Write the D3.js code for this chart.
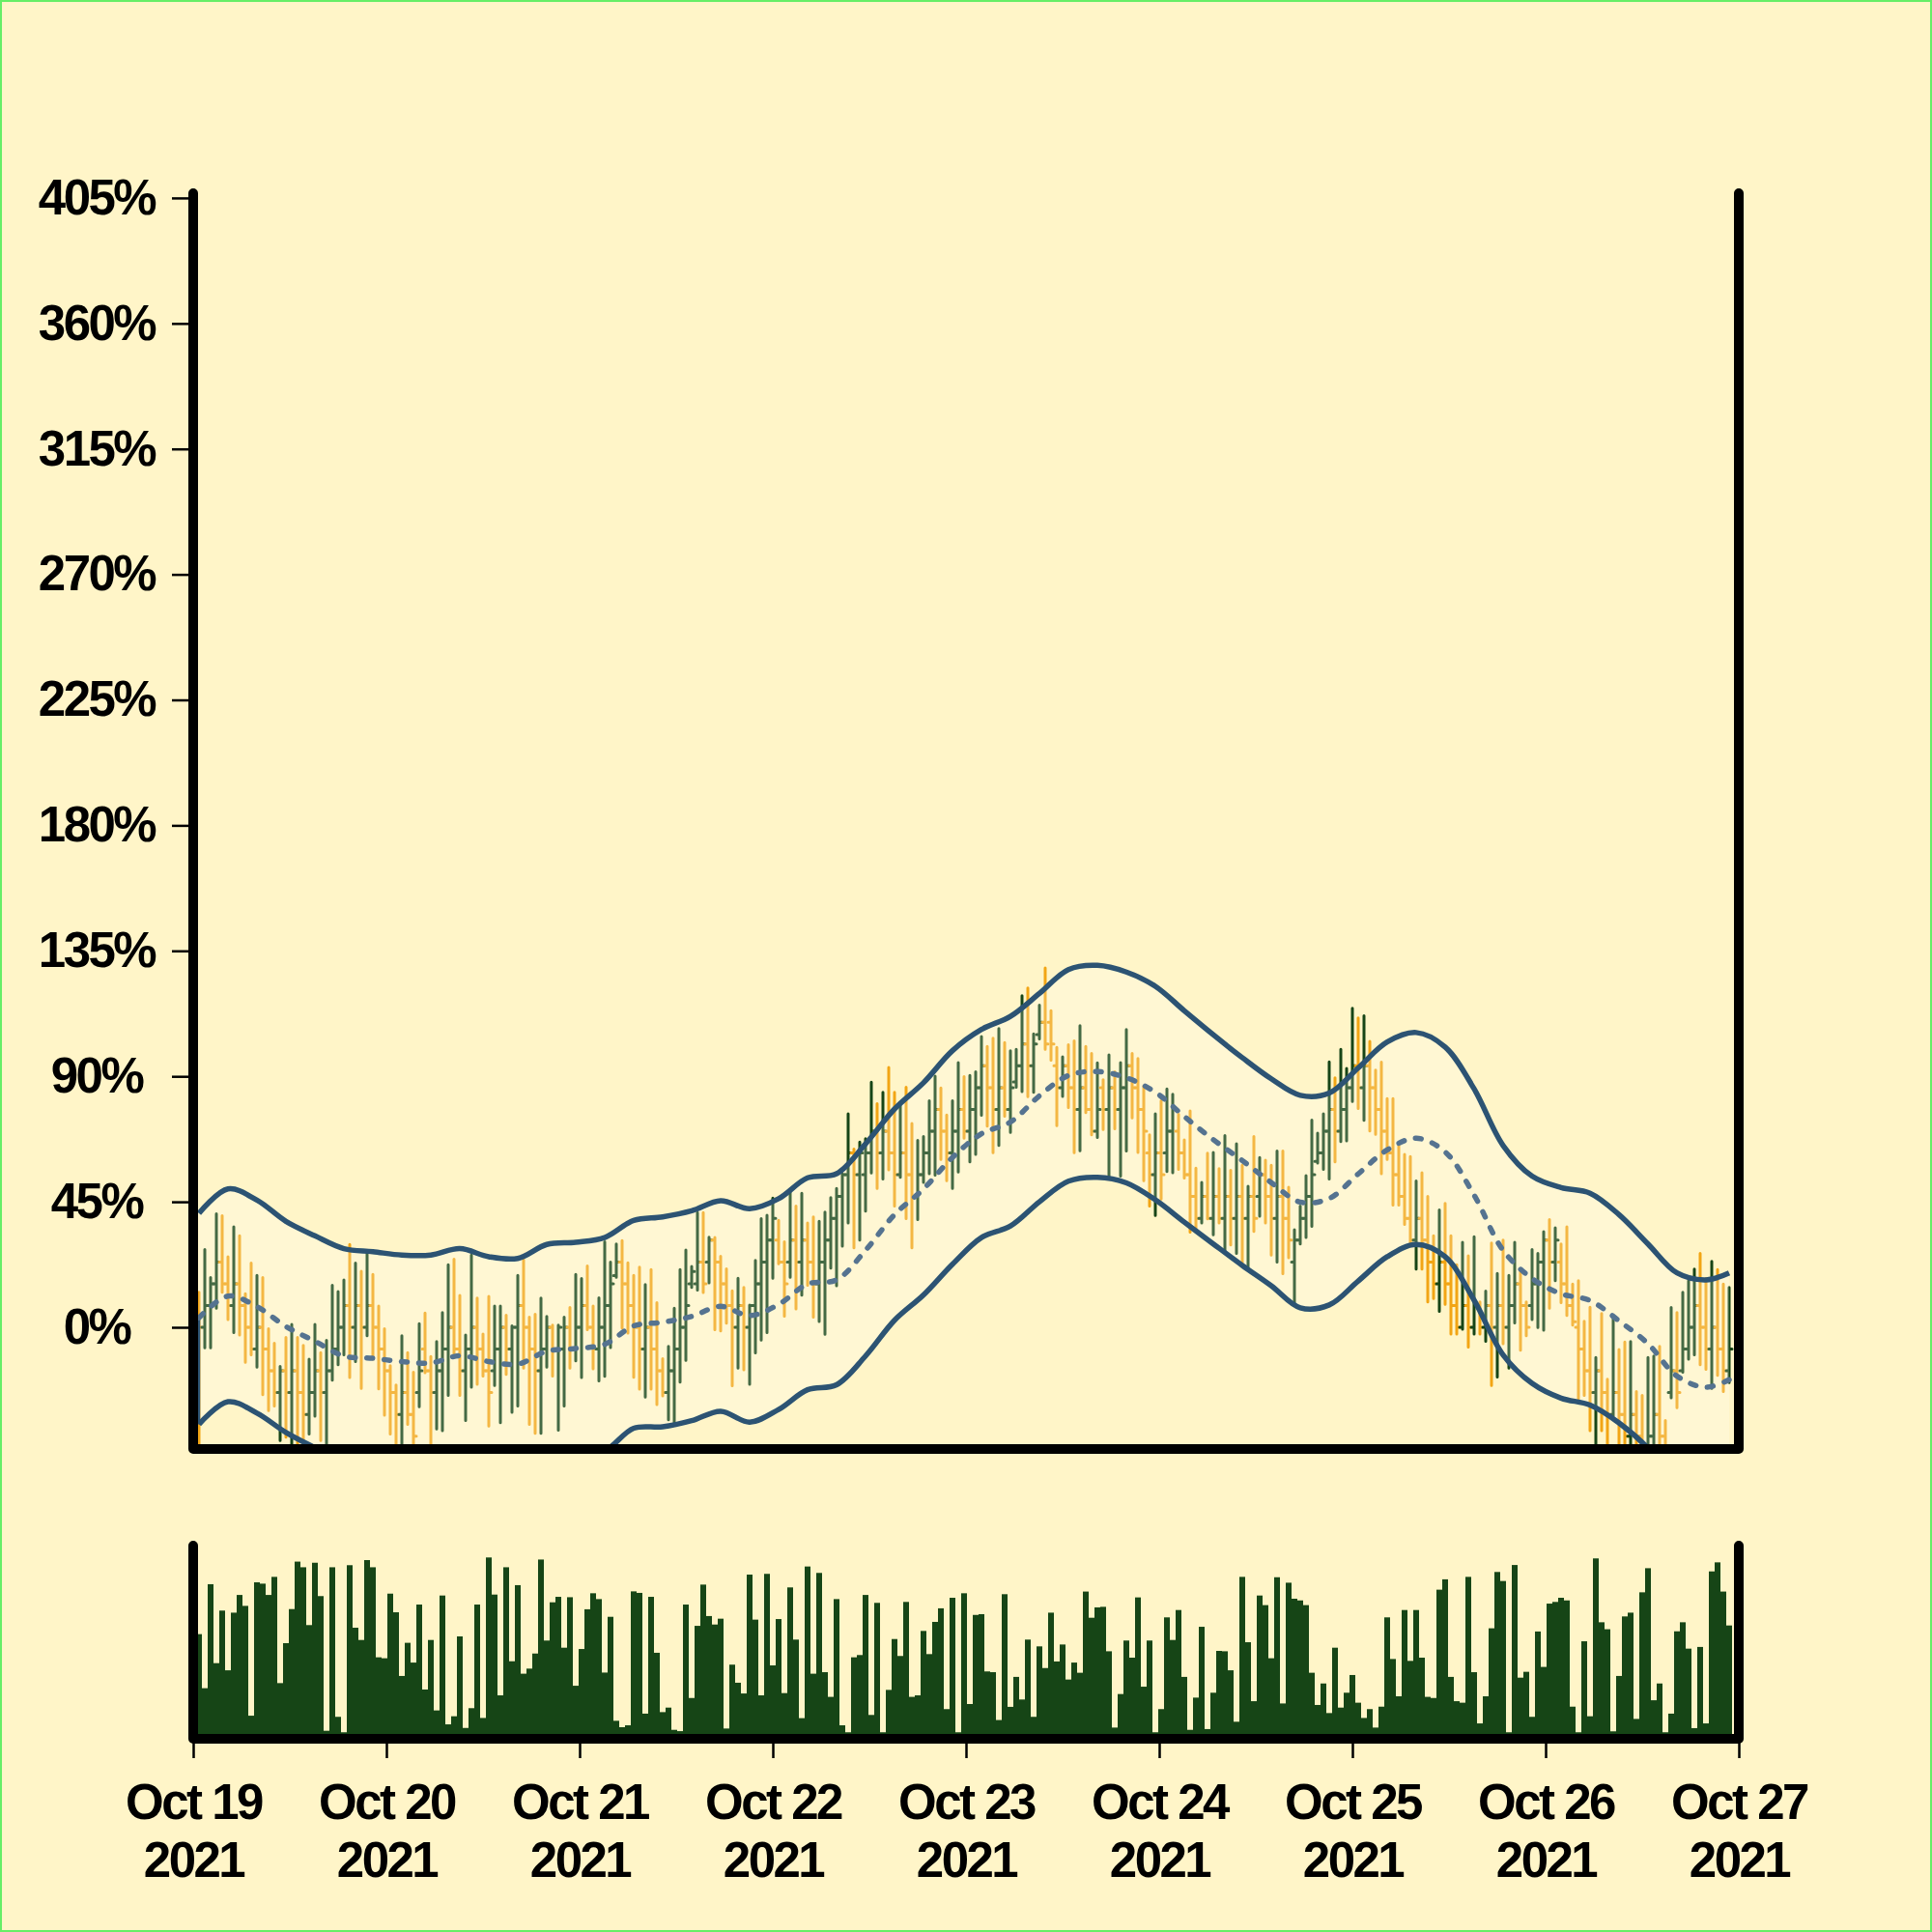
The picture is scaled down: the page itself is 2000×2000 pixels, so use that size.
<!DOCTYPE html>
<html><head><meta charset="utf-8">
<script src="https://cdn.jsdelivr.net/npm/d3@7"></script>
<style>
html,body{margin:0;padding:0;background:#fff5c8;}
svg{display:block;}
text{font-family:"Liberation Sans",Arial,Helvetica,sans-serif;font-weight:bold;fill:#000;}
</style></head><body>
<svg id="chart" width="2000" height="2000"></svg>
<script>
// ---------------- DATA (percent change vs first close) ----------------
const startDate = "2021-10-19";
const endDate = "2021-10-27";
const barStepDays = 0.03;
const yTickValues = [0,45,90,135,180,225,270,315,360,405];

const opens = [7.8,0,7.8,15.6,23.4,15.6,7.8,15.6,7.8,0,
-7.8,0,-7.8,-15.6,-23.4,-15.6,-23.4,-15.6,-23.4,-31.3,
-23.4,-15.6,-23.4,-15.6,-7.8,0,7.8,0,7.8,0,
7.8,0,-7.8,-15.6,-23.4,-31.3,-23.4,-31.3,-23.4,-7.8,
-15.6,-23.4,-15.6,-7.8,0,-7.8,-15.6,-7.8,0,-7.8,
-15.6,-15.6,-7.8,0,-7.8,0,7.8,0,-7.8,-15.6,
-7.8,0,-7.8,-7.8,0,-7.8,0,7.8,0,-7.8,
0,7.8,18.5,23.4,15.6,7.8,0,-7.8,0,-7.8,
-15.6,-23.4,-15.6,-7.8,0,15.6,15.6,23.4,23.4,31.3,
23.4,15.6,7.8,0,7.8,0,7.8,15.6,23.4,31.3,
31.3,23.4,23.4,31.3,23.4,31.3,23.4,15.6,23.4,31.3,
39.1,46.9,54.7,62.5,54.7,54.7,62.5,70.3,62.5,70.3,
62.5,54.7,62.5,54.7,46.9,54.7,62.5,70.3,78.1,70.3,
62.5,70.3,78.1,70.3,78.1,85.9,93.8,85.9,78.1,85.9,
78.1,88,93.8,101.6,93.8,105,109.4,109.4,93.8,85.9,
93.8,85.9,78.1,85.9,78.1,70.3,85.9,78.1,85.9,78.1,
85.9,93.8,85.9,78.1,62.5,54.7,62.5,62.5,70.3,70.3,
62.5,54.7,46.9,39.1,46.9,39.1,46.9,39.1,46.9,39.1,
46.9,39.1,46.9,46.9,54.7,46.9,39.1,46.9,39.1,23.4,
31.3,39.1,46.9,59.5,62.5,70.3,78.1,70.3,78.1,85.9,
93.8,85.9,93.8,85.9,78.1,70.3,62.5,54.7,46.9,39.1,
31.3,39.1,31.3,23.4,15.6,23.4,15.6,7.8,0,7.8,
0,7.8,0,7.8,0,7.8,0,7.8,15.6,7.8,
7.8,15.6,23.4,31.3,23.4,23.4,15.6,7.8,0,-7.8,
-15.6,-23.4,-15.6,-23.4,-31.3,-23.4,-31.3,-39.1,-31.3,-39.1,
-46.9,-39.1,-31.3,-39.1,-23.4,-15.6,-15.6,-7.8,0,7.8,
0,-7.8,0,-7.8,-15.6];

const closes = [0,7.8,15.6,23.4,15.6,7.8,15.6,7.8,0,-7.8,
0,-7.8,-15.6,-23.4,-15.6,-23.4,-15.6,-23.4,-31.3,-23.4,
-15.6,-23.4,-15.6,-7.8,0,7.8,0,7.8,0,7.8,
0,-7.8,-15.6,-23.4,-31.3,-23.4,-31.3,-39.1,-15.6,-15.6,
-23.4,-15.6,-7.8,0,-7.8,-15.6,-7.8,0,-7.8,-15.6,
-23.4,-7.8,0,-7.8,0,7.8,0,-7.8,-15.6,-7.8,
0,-7.8,0,0,-7.8,0,7.8,0,-7.8,0,
7.8,15.6,23.4,15.6,7.8,0,-7.8,0,-7.8,-15.6,
-23.4,-15.6,-7.8,0,7.8,20,23.4,15.6,31.3,23.4,
15.6,7.8,0,7.8,0,7.8,15.6,23.4,31.3,39.1,
23.4,15.6,31.3,23.4,31.3,23.4,15.6,23.4,31.3,39.1,
46.9,54.7,62.5,54.7,62.5,62.5,70.3,62.5,70.3,62.5,
54.7,62.5,54.7,46.9,54.7,62.5,70.3,78.1,70.3,62.5,
70.3,78.1,70.3,78.1,85.9,93.8,85.9,78.1,85.9,78.1,
85.9,93.8,101.6,93.8,101.6,109.4,101.6,101.6,85.9,93.8,
85.9,78.1,85.9,78.1,70.3,78.1,78.1,85.9,78.1,85.9,
93.8,85.9,78.1,70.3,54.7,62.5,54.7,70.3,78.1,62.5,
54.7,46.9,39.1,46.9,39.1,46.9,39.1,46.9,39.1,46.9,
39.1,46.9,39.1,54.7,46.9,39.1,46.9,39.1,31.3,31.3,
39.1,46.9,54.7,62.5,70.3,78.1,70.3,78.1,85.9,93.8,
85.9,93.8,85.9,78.1,70.3,62.5,54.7,46.9,39.1,31.3,
39.1,31.3,23.4,15.6,23.4,15.6,7.8,0,7.8,0,
7.8,0,7.8,0,7.8,0,7.8,15.6,7.8,0,
15.6,23.4,31.3,23.4,31.3,15.6,7.8,2,-7.8,-15.6,
-23.4,-15.6,-23.4,-31.3,-23.4,-31.3,-39.1,-31.3,-39.1,-46.9,
-39.1,-31.3,-39.1,-46.9,-15.6,-23.4,-7.8,0,7.8,0,
-7.8,0,-7.8,-15.6,-7.8];

const highs = [12.6,27.9,17.8,40.7,40.0,25.3,36.0,32.8,12.0,23.0,
18.6,17.8,-0.5,-5.7,-14.0,-3.6,1.0,-3.6,-6.5,-11.4,
1.0,-9.1,-4.7,15.1,12.8,17.0,29.7,23.0,20.1,26.7,
19.0,7.6,-0.5,-13.8,-20.7,-3.0,-9.1,-16.1,1.3,5.1,
-10.5,-5.1,5.3,22.4,24.4,11.4,-2.8,25.9,10.5,-2.4,
11.1,7.6,7.6,4.3,0.5,18.6,24.2,3.6,4.7,10.5,
3.9,0.8,0.8,3.6,7.1,19.0,17.5,22.0,7.6,10.6,
30.7,23.4,29.9,31.1,23.1,18.6,21.6,15.3,20.7,8.8,
-11.3,-6.8,6.8,20.7,27.7,21.8,41.1,41.1,32.3,32.2,
25.5,21.0,13.1,17.6,14.3,8.0,24.0,39.0,40.2,46.3,
38.4,30.7,49.0,43.5,48.1,37.4,39.6,38.0,41.3,46.5,
49.8,55.1,76.6,63.9,66.4,67.6,87.9,80.2,84.3,93.2,
84.3,79.4,86.1,73.1,67.0,68.4,81.2,90.1,85.8,76.1,
81.2,94.9,89.9,90.3,91.6,104.3,100.7,103.7,107.1,102.1,
99.2,99.7,118.9,121.7,105.2,115.5,128.9,113.5,100.4,97.0,
101.3,102.7,108.2,100.7,98.2,94.8,88.8,97.7,91.6,94.9,
106.8,98.2,96.4,86.4,69.0,76.6,81.2,85.5,83.6,76.4,
67.2,77.6,57.1,52.0,62.4,62.7,56.9,68.8,56.3,65.8,
58.1,50.6,68.4,60.9,59.9,58.1,63.2,63.2,50.2,35.0,
43.5,54.4,74.3,69.6,76.6,95.2,89.5,99.7,92.8,114.4,
110.9,111.7,102.5,92.2,95.1,82.0,82.0,65.2,62.0,61.2,
52.5,55.4,46.9,32.8,42.1,44.4,32.8,22.4,30.5,25.6,
32.5,9.1,13.0,30.2,19.3,31.3,18.6,30.5,20.5,9.1,
27.9,26.5,34.3,38.6,35.7,29.9,36.0,15.5,16.7,2.2,
7.2,-10.8,4.9,-18.6,4.3,-8.0,-5.3,-5.1,-23.0,-24.4,
-10.8,-10.3,-6.8,-33.4,7.1,5.3,12.6,16.7,20.9,26.5,
17.5,23.6,20.7,15.5,14.3];

const lows = [-50,-7.4,-7.4,6.8,12.6,2.8,-1.9,-2.8,-12.6,-9.9,
-14.3,-24.2,-29.9,-28.2,-40.6,-39.4,-50,-50,-50,-38.3,
-31.9,-40.6,-50,-19.0,-13.4,-9.9,-18.0,-12.3,-21.9,-3.0,
-11.4,-22.1,-31.5,-38.3,-50,-50,-34.8,-42.5,-28.5,-16.3,
-50,-36.5,-37.1,-24.4,-9.4,-24.4,-33.4,-21.5,-20.4,-17.5,
-35.4,-20.9,-34.2,-16.9,-30.5,-28.2,-14.6,-34.8,-38.0,-38.0,
-14.3,-17.5,-36.9,-28.2,-14.6,-12.0,-18.0,-0.9,-14.9,-19.2,
-17.6,-7.3,17.9,-0.3,-2.1,-17.9,-22.2,-25.0,-22.2,-27.7,
-24.6,-33.2,-35.0,-19.7,-11.9,14.3,13.3,12.5,15.9,-0.9,
-1.3,1.5,-21.0,-14.6,-15.2,-20.4,-9.2,-4.6,-1.9,17.6,
22.8,4.0,17.9,6.6,11.5,15.1,3.6,2.1,-2.5,21.2,
14.9,29.1,37.4,28.5,31.3,41.7,55.3,49.8,53.2,56.5,
43.5,53.8,39.0,28.5,38.6,52.0,55.1,54.6,60.2,52.6,
49.8,55.7,67.8,59.3,62.0,76.0,72.1,62.6,65.2,75.7,
69.9,86.1,84.5,82.7,84.3,103.4,99.7,95.8,72.3,82.8,
78.8,62.6,63.3,77.0,69.0,68.1,70.9,53.2,71.2,54.2,
63.2,75.1,62.7,52.6,43.5,40.1,46.0,55.9,55.4,56.6,
53.5,34.1,35.5,37.4,38.9,33.2,37.4,27.1,29.5,26.5,
22.2,21.6,34.4,39.8,37.4,25.9,23.4,19.2,24.9,8.8,
29.9,32.2,36.2,58.9,56.6,53.2,59.3,66.6,66.9,81.0,
78.5,74.2,70.4,69.2,55.1,60.2,43.8,43.8,36.9,30.5,
20.9,20.9,9.1,10.3,5.7,8.2,-2.4,-2.4,-0.7,-7.1,
-2.4,-2.4,-5.0,-20.9,-17.8,-5.9,-14.6,1.6,-8.2,-3.0,
2.8,-0.1,-1.0,6.8,16.7,8.8,4.2,0.8,-25.6,-24.4,
-37.1,-50,-37.1,-50,-31.9,-50,-50,-50,-50,-50,
-50,-50,-50,-50,-25.3,-28.8,-16.1,-11.4,-9.9,-13.4,
-15.1,-21.9,-17.2,-23.0,-19.8];

// volume, as % of the volume panel height
const volumes = [53,24.3,79.5,37.6,65.5,33.8,64.4,73.8,68.0,9.7,
80.5,79.8,73.8,83.4,27.0,48.2,66.3,91.5,88.5,57.8,
90.9,73.2,1.7,88.5,9.1,0.9,89.6,56.4,49.9,92.3,
88.5,40.7,40.2,74.5,64.6,30.8,48.4,37.9,68.7,23.6,
49.9,12.5,73.5,5.1,9.4,51.8,3.2,13.7,68.7,8.5,
93.7,74.0,20.5,88.5,38.6,79.0,32.0,34.7,42.7,92.6,
49.6,69.9,72.8,45.8,72.6,25.6,45.1,66.2,74.7,71.6,
32.6,62.2,7.0,3.6,4.6,75.7,74.9,10.8,72.8,43.1,
11.6,14.0,2.2,1.5,68.7,19.1,57.4,79.3,62.6,58.1,
61.2,2.9,36.8,27.2,21.5,84.6,60.7,20.5,85.0,36.4,
61.0,21.7,77.8,50.1,8.4,88.9,32.0,85.5,32.8,19.7,
71.6,4.6,0.9,40.7,41.9,73.8,10.1,69.6,0.9,23.4,
50.4,41.4,70.1,19.7,20.5,54.7,42.4,59.5,66.7,13.2,
72.3,0.9,74.7,15.9,63.2,63.6,33.2,32.8,7.4,74.2,
14.4,30.3,18.3,50.1,9.1,46.5,35.0,64.4,38.5,47.5,
28.9,37.9,32.5,75.6,61.7,67.2,67.5,43.9,3.4,21.2,
49.6,40.5,72.5,25.1,49.6,0.9,13.2,61.9,49.9,65.8,
30.3,2.2,19.3,56.9,2.6,21.9,44.1,43.9,33.8,6.5,
83.4,48.7,17.4,73.5,68.4,40.2,83.2,16.2,80.3,71.8,
70.9,68.4,32.5,15.4,26.8,11.1,45.8,14.0,21.9,31.3,
16.6,8.5,13.2,3.4,14.5,61.9,39.8,20.0,65.8,38.8,
65.8,40.5,19.7,19.1,76.6,82.1,30.3,17.4,16.6,83.4,
32.8,5.6,20.0,56.1,86.0,81.2,0.9,89.7,29.9,33.0,
9.1,54.4,35.6,69.2,70.1,72.3,70.9,14.5,0.9,49.2,
9.4,93.2,59.3,55.6,1.4,30.8,62.4,64.4,8.0,75.2,
88.0,17.9,26.8,0.9,10.8,54.5,59.3,45.3,3.1,46.2,
5.6,86.3,91.1,75.6,57.6];

// Bollinger-style bands sampled every 5 bars
const bandIdx = [0,5,10,15,20,25,30,35,40,45,50,55,60,65,70,75,80,85,90,95,100,105,110,115,120,125,130,135,140,145,150,155,160,165,170,175,180,185,190,195,200,205,210,215,220,225,230,235,240,245,250,255,260,264];
const upperBand = [40.9,49.6,45.6,38.0,32.8,28.2,27.1,25.9,25.9,28.2,25.3,24.7,29.7,30.5,32.2,38.3,39.6,41.8,45.4,42.5,46.1,53.6,55.1,65.8,78.3,87.7,99.2,106.8,111.5,119.7,128.3,129.8,127.4,122.3,113.5,104.9,96.7,89.1,83.2,84.0,93.0,102.3,105.7,100.5,85.5,65.2,54.2,50.1,48.1,40.4,29.9,19.5,17.0,19.5];
const middleBand = [3.4,11.2,7.4,0.3,-5.0,-10.3,-11.1,-12.3,-12.8,-10.2,-12.3,-13.2,-8.6,-7.6,-6.1,0.5,1.8,3.9,7.5,4.2,8.2,15.5,17.0,27.6,40.4,49.6,60.9,69.4,73.6,83.0,90.3,91.7,89.5,84.3,75.6,67.3,59.8,51.9,44.9,46.2,55.0,63.6,67.8,62.9,47.4,27.6,17.5,12.0,9.6,2.3,-5.9,-17.5,-21.5,-18.8];
const lowerBand = [-34.8,-26.7,-30.8,-37.7,-43.2,-48.5,-49.3,-50.5,-51.0,-48.4,-50.5,-51.4,-46.8,-45.8,-44.3,-36.2,-35.7,-33.5,-30.1,-34.0,-29.5,-22.4,-20.6,-10.3,2.5,11.6,22.6,32.2,36.3,45.0,52.4,53.8,51.8,45.7,37.7,29.9,22.2,14.9,7.0,8.0,16.6,25.3,29.7,25.3,9.7,-9.9,-20.1,-25.4,-27.9,-34.3,-43.3,-55.5,-59.7,-57.0];
const lowerBandStart = 3.4; // first lower-band point before the drop

// ---------------- CHART ----------------
const svg = d3.select("#chart");
const W = 2000, H = 2000;
const L = 200, R = 1800, T = 200, B = 1500;
const VT = 1600, VB = 1800;

svg.append("rect").attr("width", W).attr("height", H).attr("fill", "#fff5c8");

const t0 = d3.utcParse("%Y-%m-%d")(startDate);
const t1 = d3.utcParse("%Y-%m-%d")(endDate);
const dates = highs.map((_, i) => new Date(+t0 + (i + 1) * barStepDays * 864e5));

const x = d3.scaleUtc().domain([t0, t1]).range([L, R]);
const y = d3.scaleLinear().domain([-43.65, 406.7]).range([B, T]);
const yv = d3.scaleLinear().domain([0, 100]).range([VB - 5, VT]);

const defs = svg.append("defs");
defs.append("clipPath").attr("id", "plotClip").append("rect")
  .attr("x", L).attr("y", T).attr("width", R - L).attr("height", B - T);

const UP = "#164516", DOWN = "#f2a514";
const bars = dates.map((d, i) => ({d, o: opens[i], h: highs[i], l: lows[i], c: closes[i], v: volumes[i]}));

const plot = svg.append("g").attr("clip-path", "url(#plotClip)");

// OHLC bars
plot.append("g").selectAll("path").data(bars).join("path")
  .attr("d", b => {
    const cx = x(b.d);
    return `M${cx},${y(b.h)}V${y(b.l)}M${cx - 3},${y(b.o)}H${cx}M${cx},${y(b.c)}H${cx + 3}`;
  })
  .attr("fill", "none")
  .attr("stroke", b => b.c > b.o ? UP : DOWN)
  .attr("stroke-width", 3)
  .attr("stroke-linecap", "round");

// band data
const bandPts = bandIdx.map((k, j) => ({d: dates[k], u: upperBand[j], m: middleBand[j], lo: lowerBand[j]}));
const curve = d3.curveCatmullRom.alpha(0.5);

plot.append("path").datum(bandPts)
  .attr("d", d3.area().curve(curve).x(p => x(p.d)).y0(p => y(p.lo)).y1(p => y(p.u)))
  .attr("fill", "#ffffff").attr("fill-opacity", 0.2);

const BAND = "#2c5373";
plot.append("path").datum(bandPts)
  .attr("d", d3.line().curve(curve).x(p => x(p.d)).y(p => y(p.u)))
  .attr("fill", "none").attr("stroke", BAND).attr("stroke-width", 5.5).attr("stroke-linejoin", "round");
plot.append("path").datum(bandPts)
  .attr("d", d3.line().curve(curve).x(p => x(p.d)).y(p => y(p.lo)))
  .attr("fill", "none").attr("stroke", BAND).attr("stroke-width", 5.5).attr("stroke-linejoin", "round");
plot.append("path").datum([{d: dates[0], v: lowerBandStart}, {d: dates[0], v: lowerBand[0]}])
  .attr("d", d3.line().x(p => x(p.d)).y(p => y(p.v)))
  .attr("fill", "none").attr("stroke", BAND).attr("stroke-width", 2.5);
plot.append("path").datum(bandPts)
  .attr("d", d3.line().curve(curve).x(p => x(p.d)).y(p => y(p.m)))
  .attr("fill", "none").attr("stroke", "#557390").attr("stroke-width", 5.5)
  .attr("stroke-dasharray", "6,12").attr("stroke-linecap", "round");

// volume bars
svg.append("g").selectAll("rect").data(bars.filter(b => b.v != null)).join("rect")
  .attr("x", b => x(b.d) - 3).attr("width", 6)
  .attr("y", b => yv(b.v)).attr("height", b => VB - yv(b.v))
  .attr("fill", UP);

// y axis ticks + centred labels
const yAxis = d3.axisLeft(y).tickValues(yTickValues).tickFormat(d => d + "%").tickSize(22).tickPadding(16);
const gy = svg.append("g").attr("transform", `translate(${L},0)`).call(yAxis);
gy.select(".domain").remove();
gy.selectAll(".tick line").attr("stroke", "#000").attr("stroke-width", 2.5);
gy.selectAll(".tick text").attr("font-size", 51).attr("letter-spacing", "-2.5px")
  .attr("text-anchor", "middle").attr("x", -100)
  .attr("font-family", "'Liberation Sans', Arial, sans-serif").attr("font-weight", "bold").attr("fill", "#000");

// x axis ticks + two-line labels
const xAxis = d3.axisBottom(x).ticks(d3.utcDay.every(1)).tickSize(20).tickFormat("");
const gx = svg.append("g").attr("transform", `translate(0,${VB})`).call(xAxis);
gx.select(".domain").remove();
gx.selectAll(".tick line").attr("stroke", "#000").attr("stroke-width", 2.5);
const fmtDay = d3.utcFormat("%b %d"), fmtYear = d3.utcFormat("%Y");
const lbl = gx.selectAll(".tick").append("text").attr("text-anchor", "middle")
  .attr("font-size", 51).attr("letter-spacing", "-2.5px")
  .attr("font-family", "'Liberation Sans', Arial, sans-serif").attr("font-weight", "bold").attr("fill", "#000");
lbl.append("tspan").attr("x", 0).attr("y", 83).text(d => fmtDay(d));
lbl.append("tspan").attr("x", 0).attr("y", 143).text(d => fmtYear(d));

// thick frame lines
svg.append("path").attr("d", `M${L},${T}V${B}H${R}V${T}`)
  .attr("fill", "none").attr("stroke", "#000").attr("stroke-width", 10)
  .attr("stroke-linecap", "round").attr("stroke-linejoin", "round");
svg.append("path").attr("d", `M${L},${VT}V${VB}H${R}V${VT}`)
  .attr("fill", "none").attr("stroke", "#000").attr("stroke-width", 10)
  .attr("stroke-linecap", "round").attr("stroke-linejoin", "round");

// outer border
svg.append("rect").attr("x", 1).attr("y", 1).attr("width", W - 2).attr("height", H - 2)
  .attr("fill", "none").attr("stroke", "#66ee66").attr("stroke-width", 2);
</script></body></html>
